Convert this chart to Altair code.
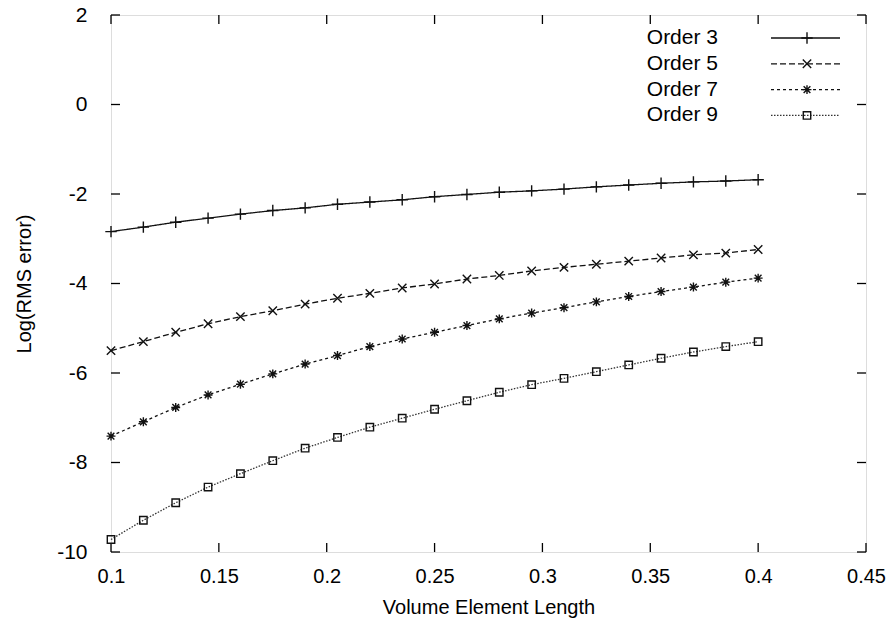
import altair as alt
import pandas as pd

x_vals = [0.1, 0.115, 0.13, 0.145, 0.16, 0.175, 0.19, 0.205, 0.22, 0.235, 0.25,
          0.265, 0.28, 0.295, 0.31, 0.325, 0.34, 0.355, 0.37, 0.385, 0.4]
order3 = [-2.84, -2.74, -2.63, -2.54, -2.45, -2.37, -2.31, -2.23, -2.18, -2.13, -2.06,
          -2.01, -1.96, -1.93, -1.89, -1.84, -1.80, -1.76, -1.73, -1.71, -1.68]
order5 = [-5.50, -5.30, -5.09, -4.90, -4.74, -4.61, -4.46, -4.33, -4.22, -4.10, -4.01,
          -3.90, -3.82, -3.72, -3.64, -3.57, -3.50, -3.43, -3.36, -3.32, -3.24]
order7 = [-7.41, -7.09, -6.77, -6.49, -6.25, -6.02, -5.80, -5.61, -5.41, -5.24, -5.09,
          -4.94, -4.79, -4.66, -4.54, -4.41, -4.29, -4.18, -4.08, -3.97, -3.88]
order9 = [-9.72, -9.29, -8.90, -8.55, -8.25, -7.96, -7.68, -7.44, -7.21, -7.01, -6.81,
          -6.62, -6.43, -6.26, -6.12, -5.97, -5.82, -5.67, -5.53, -5.41, -5.30]
series_names = ["Order 3", "Order 5", "Order 7", "Order 9"]
series_vals = [order3, order5, order7, order9]

x_ticks = [0.1, 0.15, 0.2, 0.25, 0.3, 0.35, 0.4, 0.45]
y_ticks = [-10, -8, -6, -4, -2, 0, 2]

W, H = 755, 537
FONT = "Liberation Sans"

styles = {
    "Order 3": dict(dash=[1, 0], color="#111111", shape="M-1,0L1,0M0,-1L0,1", size=130),
    "Order 5": dict(dash=[6, 3], color="#111111", shape="M-1,-1L1,1M-1,1L1,-1", size=70),
    "Order 7": dict(dash=[3, 3], color="#111111",
                    shape="M-1,0L1,0M0,-1L0,1M-0.75,-0.75L0.75,0.75M-0.75,0.75L0.75,-0.75", size=80),
    "Order 9": dict(dash=[1.5, 1.5], color="#333333", shape="square", size=55),
}

xs = alt.Scale(domain=[0.1, 0.45], nice=False, zero=False)
ys = alt.Scale(domain=[-10, 2], nice=False, zero=False)

layers = []
for name, vals in zip(series_names, series_vals):
    df = pd.DataFrame({"x": x_vals, "y": vals, "series": name})
    st = styles[name]
    base = alt.Chart(df).encode(
        x=alt.X("x:Q", scale=xs),
        y=alt.Y("y:Q", scale=ys),
    )
    layers.append(base.mark_line(color=st["color"], strokeWidth=1.3, strokeDash=st["dash"]))
    layers.append(base.mark_point(shape=st["shape"], size=st["size"], filled=False,
                                  color="#111111", strokeWidth=1.4, opacity=1))

# inward ticks (gnuplot style)
xt = pd.DataFrame({"v": x_ticks})
yt = pd.DataFrame({"v": y_ticks})
tick_layers = [
    alt.Chart(xt).mark_rule(color="black", strokeWidth=1.3).encode(
        x=alt.X("v:Q", scale=xs), y=alt.value(H), y2=alt.value(H - 9)),
    alt.Chart(xt).mark_rule(color="black", strokeWidth=1.3).encode(
        x=alt.X("v:Q", scale=xs), y=alt.value(0), y2=alt.value(9)),
    alt.Chart(yt).mark_rule(color="black", strokeWidth=1.3).encode(
        y=alt.Y("v:Q", scale=ys), x=alt.value(0), x2=alt.value(9)),
    alt.Chart(yt).mark_rule(color="black", strokeWidth=1.3).encode(
        y=alt.Y("v:Q", scale=ys), x=alt.value(W - 9), x2=alt.value(W)),
]

# legend (gnuplot style: label left, sample right)
legend_layers = []
for i, name in enumerate(series_names):
    st = styles[name]
    row = 23 + 25.8 * i
    ld = pd.DataFrame({"name": [name]})
    lc = alt.Chart(ld)
    legend_layers.append(lc.mark_text(align="right", baseline="middle", font=FONT, fontSize=21,
                                      color="black").encode(
        x=alt.value(607), y=alt.value(row), text="name:N"))
    legend_layers.append(lc.mark_rule(color=st["color"], strokeWidth=1.3, strokeDash=st["dash"]).encode(
        x=alt.value(660), x2=alt.value(729), y=alt.value(row)))
    legend_layers.append(lc.mark_point(shape=st["shape"], size=st["size"], filled=False,
                                       color="#111111", strokeWidth=1.4, opacity=1).encode(
        x=alt.value(696), y=alt.value(row)))

axis_layer = alt.Chart(pd.DataFrame({"x": x_vals[:1], "y": order3[:1]})).mark_point(opacity=0).encode(
    x=alt.X("x:Q", scale=xs, title="Volume Element Length",
            axis=alt.Axis(values=x_ticks, ticks=False, domain=False, grid=False,
                          labelFontSize=20, labelPadding=14, labelFont=FONT, labelColor="black",
                          titleFont=FONT, titleFontSize=20, titleFontWeight="normal",
                          titlePadding=11, titleColor="black", labelFlush=False,
                          labelExpr="'' + datum.value")),
    y=alt.Y("y:Q", scale=ys, title="Log(RMS error)",
            axis=alt.Axis(values=y_ticks, ticks=False, domain=False, grid=False,
                          labelFontSize=21, labelPadding=24, labelFont=FONT, labelColor="black",
                          titleFont=FONT, titleFontSize=20, titleFontWeight="normal",
                          titlePadding=22, titleColor="black", labelFlush=False,
                          labelExpr="'' + datum.value")),
)

chart = alt.layer(axis_layer, *tick_layers, *layers, *legend_layers).properties(
    width=W, height=H,
    autosize=alt.AutoSizeParams(type="none"),
    padding={"left": 111, "top": 15, "right": 20, "bottom": 78},
).configure_view(stroke="black", strokeWidth=1.5).configure(background="white")

chart.save("out.html", embed_options={"renderer": "svg", "actions": False})
